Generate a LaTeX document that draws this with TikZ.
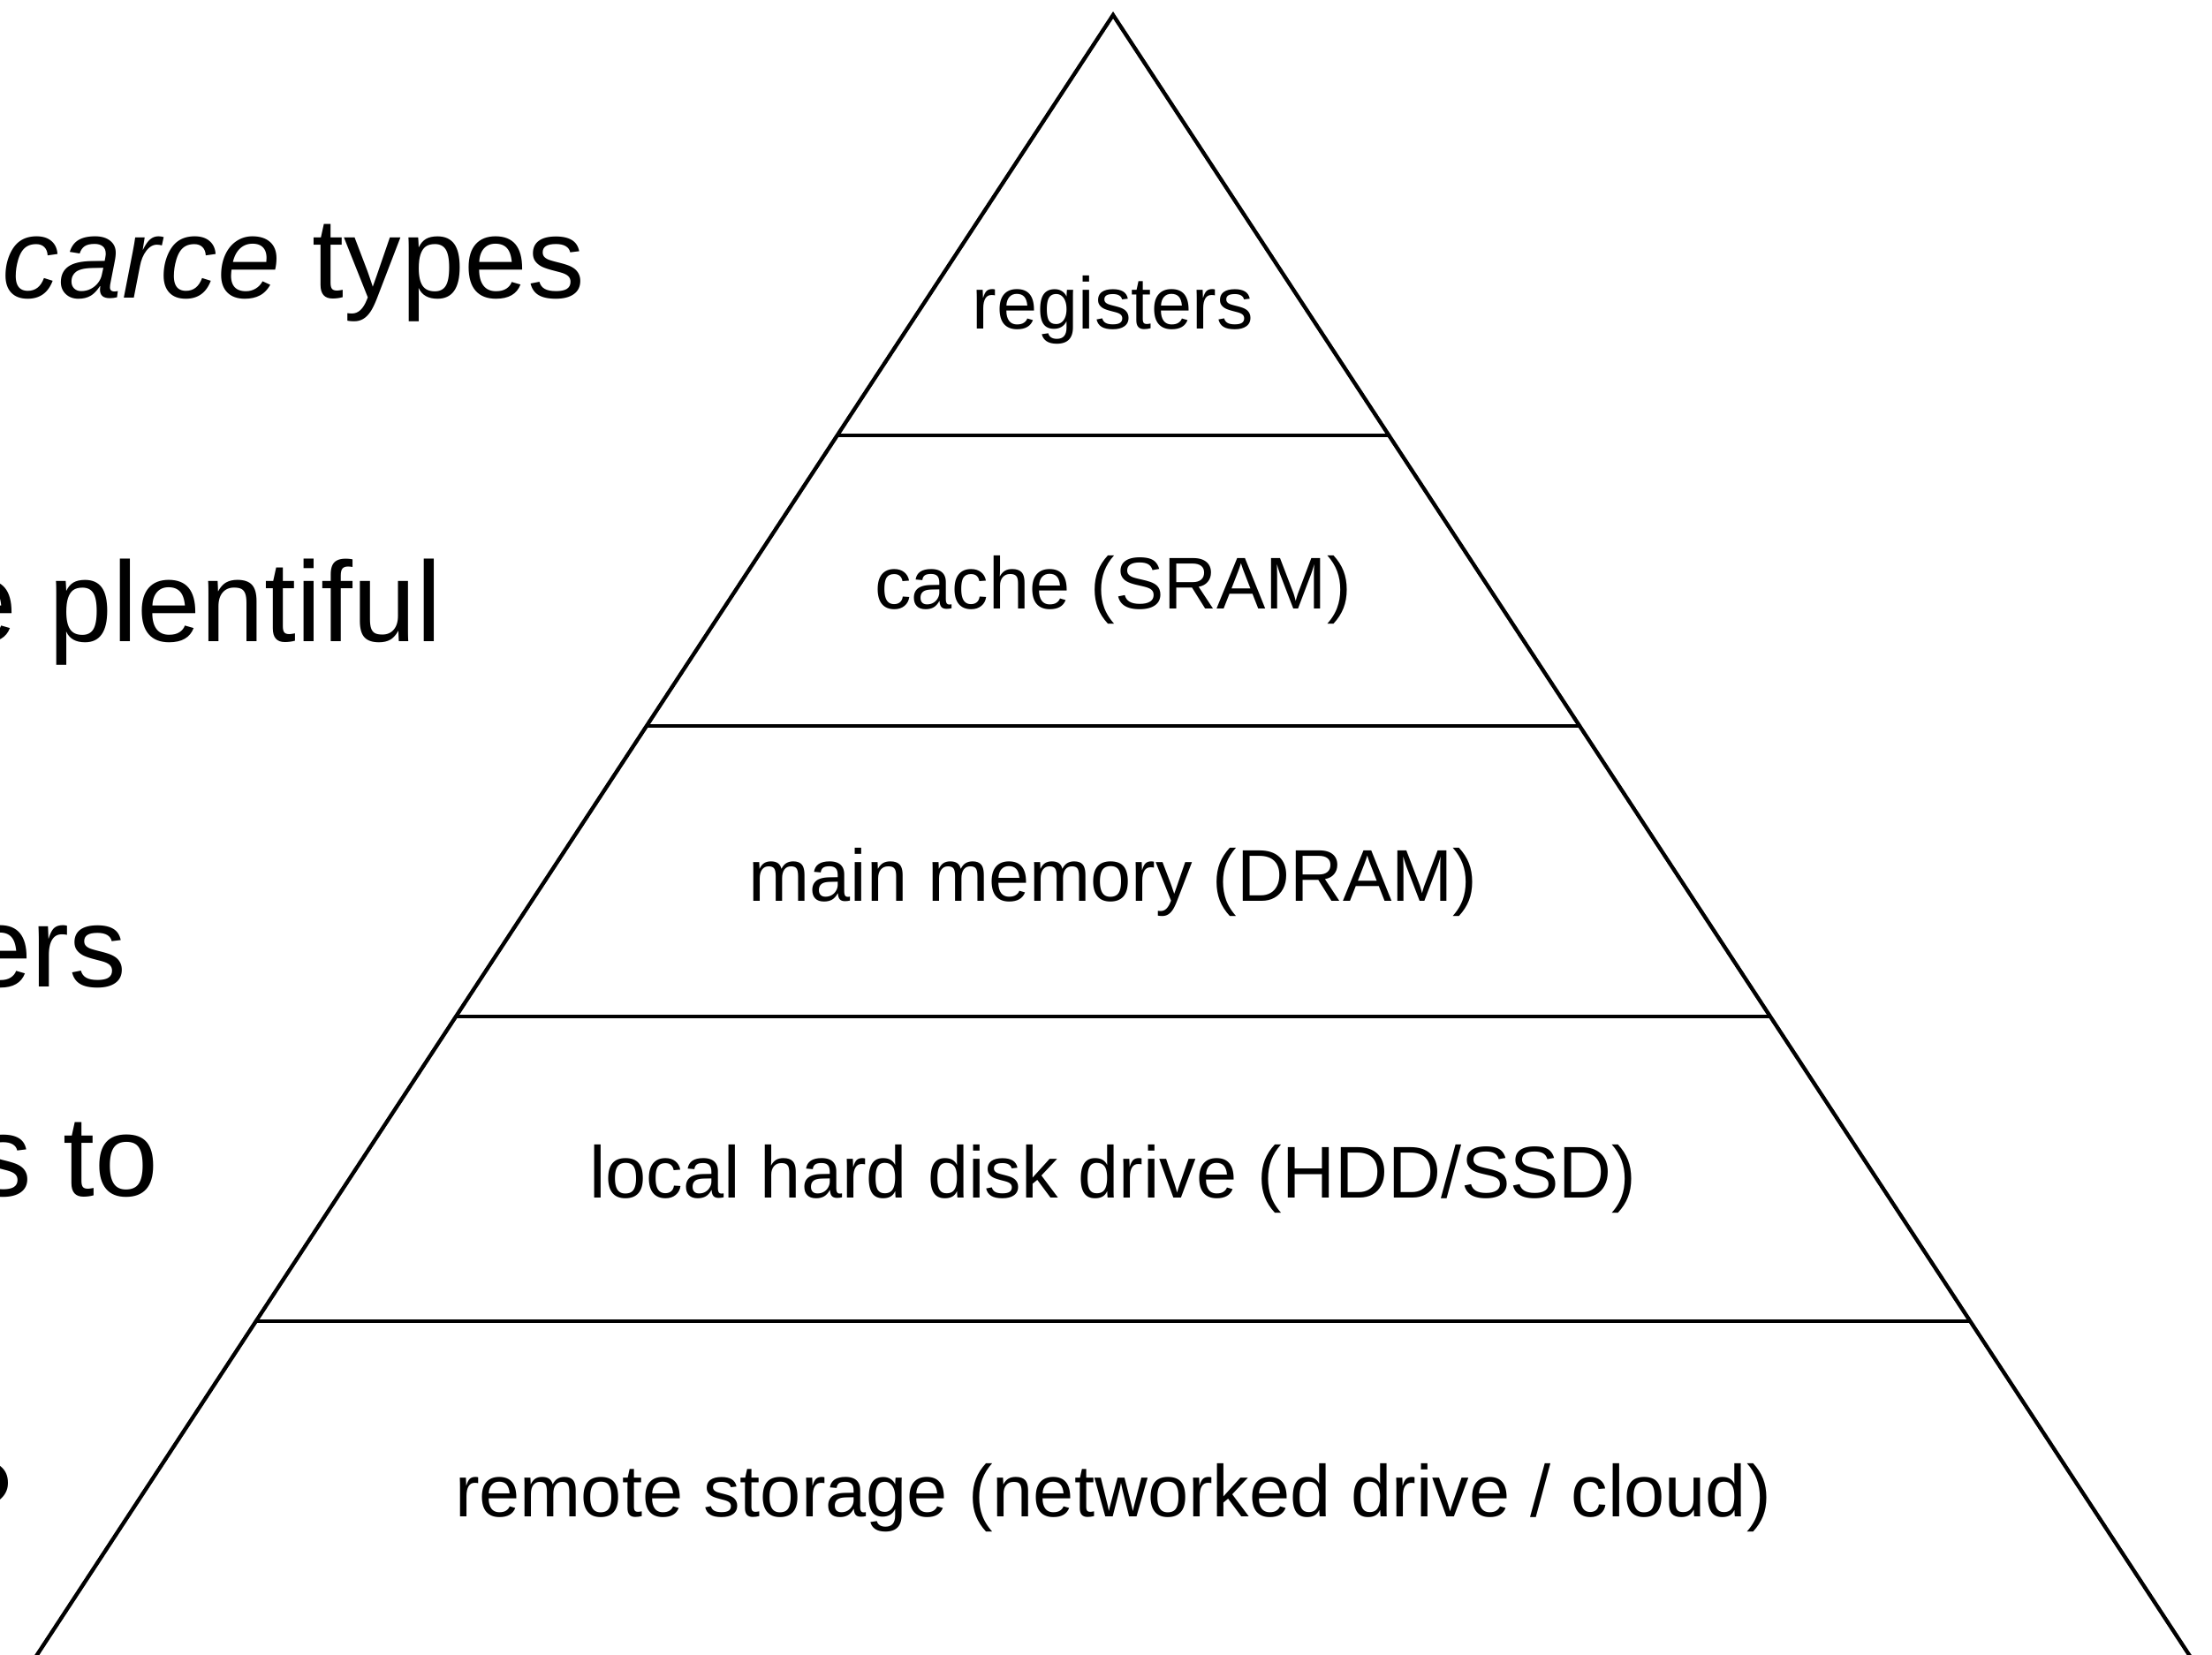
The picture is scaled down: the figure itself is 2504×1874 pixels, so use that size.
\documentclass[tikz,border=0pt]{standalone}
\usepackage{fontspec}
\setmainfont{Liberation Sans}
\usetikzlibrary{calc}
\begin{document}
\begin{tikzpicture}[x=0.01cm,y=-0.01cm,
  edge/.style={line width=1.25pt,line join=miter},
  tier/.style={inner sep=0pt,anchor=base,font=\fontsize{23.6pt}{28pt}\selectfont},
  bigtext/.style={inner sep=0pt,anchor=base east,font=\fontsize{36.7pt}{44pt}\selectfont}]
% page area; anything beyond it is cut away
\clip (0,0) rectangle (2504,1874);
\fill[white] (0,0) rectangle (2504,1874);

% text fragments on the left
\node[bigtext] (t1) at (663,338) {\textit{carce} types};
\node[bigtext] (t2) at (501,727) {e plentiful};
\node[bigtext] (t3) at (144,1117) {ers};
\node[bigtext] (t4) at (180,1354) {s to};
\node[bigtext] (t5) at (15,1744) {?};

% pyramid outline
\coordinate (apex) at (1260,17);
\coordinate (bl) at (13.6,1917);
\coordinate (br) at (2506.4,1917);
\draw[edge] (bl) -- (apex) -- (br);

% tier separators
\foreach \t [count=\i] in {0.2505,0.4237,0.5968,0.7784}{
  \coordinate (sl\i) at ($(apex)!\t!(bl)$);
  \coordinate (sr\i) at ($(apex)!\t!(br)$);
  \draw[edge] (sl\i) -- (sr\i);
}

% tier labels
\node[tier] (reg) at (1260,373) {registers};
\node[tier] (cache) at (1260,690) {cache (SRAM)};
\node[tier] (dram) at (1260,1020) {main memory (DRAM)};
\node[tier] (disk) at (1260,1356) {local hard disk drive (HDD/SSD)};
\node[tier] (remote) at (1260,1717) {remote storage (networked drive / cloud)};
\end{tikzpicture}
\end{document}
